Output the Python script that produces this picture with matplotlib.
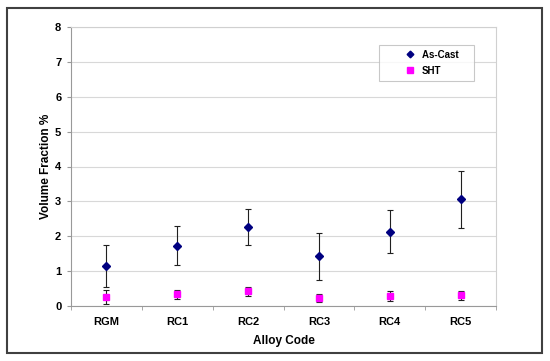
import numpy as np
import matplotlib.pyplot as plt
from matplotlib.patches import Rectangle

# Datos
aleaciones = ['RGM', 'RC1', 'RC2', 'RC3', 'RC4', 'RC5']
as_cast = [1.15, 1.73, 2.27, 1.42, 2.13, 3.06]
as_cast_err = [0.60, 0.55, 0.52, 0.68, 0.61, 0.82]
sht = [0.26, 0.33, 0.42, 0.23, 0.29, 0.31]
sht_err = [0.21, 0.12, 0.13, 0.12, 0.14, 0.13]

plt.rcParams['font.family'] = ['Liberation Sans', 'DejaVu Sans']
plt.rcParams['font.weight'] = 'bold'

fig = plt.figure(figsize=(5.5, 3.61), dpi=100)
ax = fig.add_axes([71 / 550, 1 - 306 / 361, 425 / 550, 279 / 361])

# Marco exterior
fig.patches.append(Rectangle((7 / 550, 1 - 353 / 361), 535 / 550, 345 / 361,
                             transform=fig.transFigure, fill=False,
                             edgecolor='#404040', linewidth=1.5))

x = np.arange(len(aleaciones))
eb1 = ax.errorbar(x, as_cast, yerr=as_cast_err, fmt='D', color='#000080',
                  markersize=4, ecolor='#202020', elinewidth=0.8, capsize=2.3,
                  capthick=0.8, zorder=3)
eb2 = ax.errorbar(x, sht, yerr=sht_err, fmt='s', color='#FF00FF',
                  markersize=4.5, ecolor='#202020', elinewidth=0.8, capsize=2.3,
                  capthick=0.8, zorder=3)

ax.set_xlim(-0.5, 5.5)
ax.set_ylim(0, 8)
ax.set_yticks(range(0, 9))
ax.set_xticks(x)
ax.set_xticklabels(aleaciones)
ax.set_xticks(np.arange(-0.5, 6, 1), minor=True)
ax.tick_params(axis='x', which='major', length=0, pad=8, labelsize=8)
ax.tick_params(axis='x', which='minor', length=3, color='#999999', direction='out')
ax.tick_params(axis='y', length=3, color='#999999', labelsize=8, pad=4)
ax.grid(axis='y', color='#d8d8d8', linewidth=0.8)
ax.set_axisbelow(True)

for lado in ['left', 'bottom']:
    ax.spines[lado].set_color('#999999')
for lado in ['right', 'top']:
    ax.spines[lado].set_color('#d0d0d0')
    ax.spines[lado].set_linewidth(0.8)

ax.set_ylabel('Volume Fraction %', fontsize=8.5, fontweight='bold', labelpad=2)
ax.set_xlabel('Alloy Code', fontsize=8.5, fontweight='bold', labelpad=6)

leg = ax.legend([eb1[0], eb2[0]], ['As-Cast    ', 'SHT'],
                loc='upper left', bbox_to_anchor=((379 - 71) / 425, 1 - (45 - 27) / 279),
                fontsize=7, frameon=True, fancybox=False, borderpad=0.5,
                handletextpad=-1.4, labelspacing=0.6, handlelength=5.3,
                borderaxespad=0, markerscale=0.85)
leg.get_frame().set_edgecolor('#bbbbbb')
leg.get_frame().set_linewidth(0.8)

plt.savefig('out.png', dpi=100)
